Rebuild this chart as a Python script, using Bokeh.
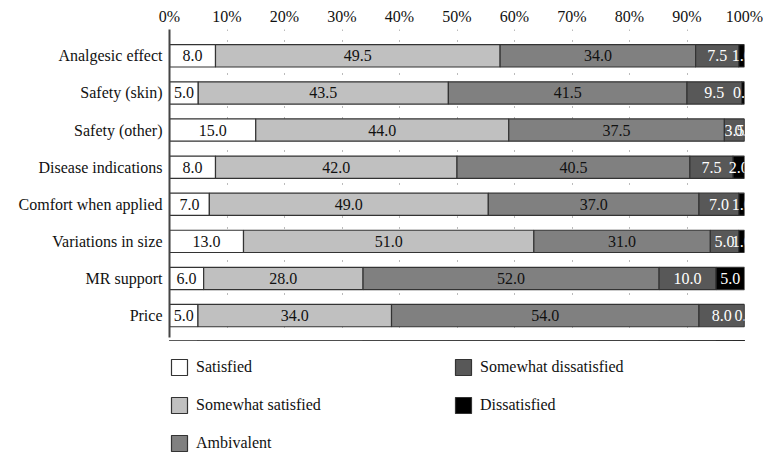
from bokeh.plotting import figure
from bokeh.layouts import column
from bokeh.models import ColumnDataSource, Range1d, FixedTicker, Legend, LegendItem
from bokeh.core.properties import value
from bokeh.embed import file_html
from bokeh.resources import INLINE

categories = ["Analgesic effect", "Safety (skin)", "Safety (other)", "Disease indications",
              "Comfort when applied", "Variations in size", "MR support", "Price"]
satisfied = [8.0, 5.0, 15.0, 8.0, 7.0, 13.0, 6.0, 5.0]
somewhat_satisfied = [49.5, 43.5, 44.0, 42.0, 49.0, 51.0, 28.0, 34.0]
ambivalent = [34.0, 41.5, 37.5, 40.5, 37.0, 31.0, 52.0, 54.0]
somewhat_dissatisfied = [7.5, 9.5, 3.5, 7.5, 7.0, 5.0, 10.0, 8.0]
dissatisfied = [1.0, 0.5, 0.0, 2.0, 1.0, 1.0, 5.0, 0.0]
series_names = ["Satisfied", "Somewhat satisfied", "Ambivalent", "Somewhat dissatisfied", "Dissatisfied"]
tick_values = [0, 10, 20, 30, 40, 50, 60, 70, 80, 90, 100]
tick_labels = ["0%", "10%", "20%", "30%", "40%", "50%", "60%", "70%", "80%", "90%", "100%"]

series = [satisfied, somewhat_satisfied, ambivalent, somewhat_dissatisfied, dissatisfied]
fill_colors = ["#ffffff", "#c0c0c0", "#808080", "#585858", "#000000"]
text_colors = ["#111111", "#111111", "#111111", "#ffffff", "#ffffff"]
FONT = "Liberation Serif"

p = figure(width=763, height=340, output_backend="svg", toolbar_location=None,
           x_range=Range1d(0, 100), y_range=Range1d(7.59, -0.71),
           x_axis_location="above",
           min_border_left=169, min_border_right=19, min_border_top=29, min_border_bottom=3)
p.outline_line_color = None
p.background_fill_color = "white"
p.border_fill_color = "white"

ys = list(range(len(categories)))
totals = [sum(s[i] for s in series) for i in range(len(categories))]
cum = [0.0] * len(categories)
sources = []
for k, vals in enumerate(series):
    left = [cum[i] / totals[i] * 100 for i in range(len(categories))]
    right = [(cum[i] + vals[i]) / totals[i] * 100 for i in range(len(categories))]
    cum = [cum[i] + vals[i] for i in range(len(categories))]
    mid = [(l + r) / 2 for l, r in zip(left, right)]
    src = ColumnDataSource(dict(y=ys, left=left, right=right, mid=mid,
                                label=["%.1f" % v for v in vals]))
    sources.append(src)
    p.hbar(y="y", left="left", right="right", height=0.6, source=src,
           fill_color=fill_colors[k], line_color="#333333", line_width=1.2)
    p.text(x="mid", y="y", text="label", source=src, text_align="center",
           text_baseline="middle", text_font=value(FONT), text_font_size="16px",
           text_color=text_colors[k])

# x axis (top)
xa = p.xaxis[0]
xa.ticker = FixedTicker(ticks=tick_values)
xa.major_label_overrides = {v: l for v, l in zip(tick_values, tick_labels)}
xa.axis_line_color = None
xa.major_tick_line_color = None
xa.major_tick_out = 0
xa.major_tick_in = 0
xa.minor_tick_line_color = None
xa.major_label_text_font = FONT
xa.major_label_text_font_size = "16px"
xa.major_label_text_color = "#111111"
xa.major_label_standoff = 5

# y axis
ya = p.yaxis[0]
ya.ticker = FixedTicker(ticks=ys)
ya.major_label_overrides = {i: c for i, c in zip(ys, categories)}
ya.axis_line_color = "#444444"
ya.axis_line_width = 2
ya.major_tick_line_color = None
ya.major_tick_out = 0
ya.major_tick_in = 0
ya.minor_tick_line_color = None
ya.major_label_text_font = FONT
ya.major_label_text_font_size = "16px"
ya.major_label_text_color = "#111111"
ya.major_label_standoff = 7

p.ygrid.grid_line_color = None
p.xgrid.ticker = FixedTicker(ticks=tick_values)
p.xgrid.grid_line_color = "#777777"
p.xgrid.grid_line_dash = "1 10"
p.xgrid.grid_line_width = 1

# legend figure (shares the data sources; its y range is empty of data)
q = figure(width=763, height=113, output_backend="svg", toolbar_location=None,
           x_range=Range1d(0, 100), y_range=Range1d(-20, -10),
           x_axis_type=None, y_axis_type=None,
           min_border_left=169, min_border_right=19, min_border_top=0, min_border_bottom=0)
q.outline_line_color = None
q.grid.visible = False
legend_renderers = []
for k in range(len(series_names)):
    r = q.hbar(y="y", left="left", right="right", height=0.6, source=sources[k],
               fill_color=fill_colors[k], line_color="#333333", line_width=1.2)
    legend_renderers.append(r)
items = [LegendItem(label=n, renderers=[r]) for n, r in zip(series_names, legend_renderers)]
legend = Legend(items=items, location=(0, 0), orientation="vertical", ncols=2,
                padding=0, margin=0, border_line_color=None, background_fill_alpha=0,
                glyph_width=20, glyph_height=20, label_height=18, label_width=239,
                label_standoff=7, spacing=18,
                label_text_font=FONT, label_text_font_size="16px", label_text_color="#111111")
q.add_layout(legend)

open("out.html", "w").write(file_html(column(p, q), INLINE))
